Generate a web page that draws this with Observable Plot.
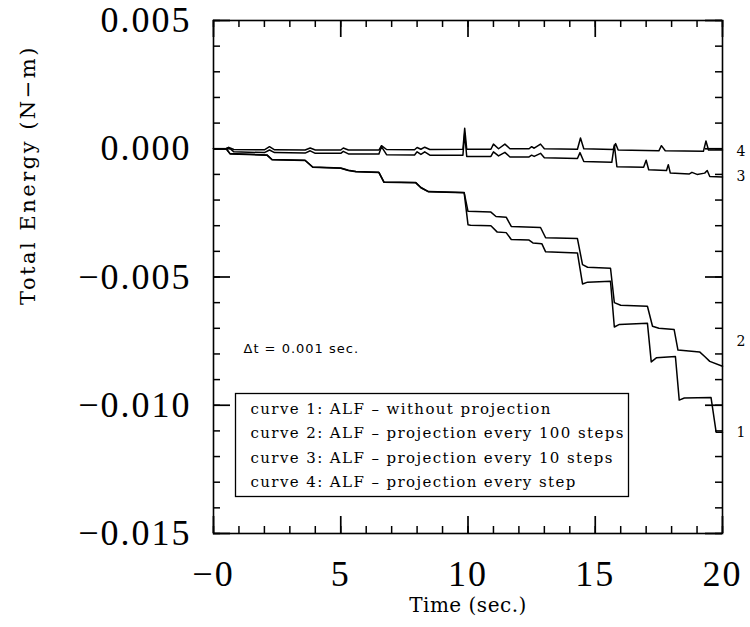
<!DOCTYPE html>
<html>
<head>
<meta charset="utf-8">
<script src="https://cdn.jsdelivr.net/npm/d3@7"></script>
<script src="https://cdn.jsdelivr.net/npm/@observablehq/plot@0.6"></script>
<style>
  body { margin: 0; background: #fff; }
</style>
</head>
<body>
<div id="chart"></div>
<script>
// ---- data ----
const curveNames = ["1", "2", "3", "4"];

const curve1Time = [0,0.5,0.65,2.1,2.3,3.6,3.9,5.0,5.3,5.6,6.5,6.7,7.95,8.15,8.45,9.85,10.0,10.1,10.9,11.15,11.5,11.7,12.4,12.55,12.9,13.05,14.3,14.5,14.7,15.6,15.75,15.95,17.05,17.2,17.4,18.15,18.3,18.5,19.55,19.75,20];
const curve1Energy = [0,0,-0.0002,-0.00025,-0.00043,-0.00046,-0.00072,-0.00076,-0.00085,-0.0009,-0.00093,-0.00131,-0.00133,-0.00152,-0.00168,-0.00172,-0.00296,-0.00298,-0.0030,-0.00325,-0.00327,-0.00354,-0.00356,-0.00367,-0.0037,-0.00402,-0.00406,-0.00527,-0.0052,-0.00517,-0.00695,-0.00685,-0.0068,-0.00831,-0.00815,-0.0081,-0.0098,-0.00972,-0.0097,-0.01105,-0.01105];

const curve2Time = [0,0.5,0.65,2.1,2.3,3.6,3.9,5.0,5.3,5.6,6.5,6.7,7.95,8.15,8.45,9.85,10.0,10.9,11.1,11.5,11.7,12.85,13.05,14.3,14.5,14.7,15.6,15.75,16.0,17.05,17.25,17.5,18.1,18.25,19.1,19.3,19.5,20];
const curve2Energy = [0,0,-0.00019,-0.00024,-0.00042,-0.00045,-0.00071,-0.00075,-0.00084,-0.00089,-0.00092,-0.0013,-0.00132,-0.00151,-0.00167,-0.00171,-0.00244,-0.00247,-0.00264,-0.00267,-0.00303,-0.00307,-0.00347,-0.0035,-0.00452,-0.00462,-0.00466,-0.006,-0.0061,-0.00614,-0.00692,-0.0070,-0.00705,-0.00785,-0.00792,-0.0081,-0.00829,-0.00848];

const curve3Time = [0,0.5,0.6,0.8,2.0,2.2,2.4,3.6,3.8,4.0,5.0,5.1,5.3,6.5,6.6,6.8,7.9,8.0,8.15,8.3,8.5,9.8,9.87,9.95,10.9,11.0,11.2,11.45,11.65,12.4,12.5,12.6,12.85,13.0,14.3,14.4,14.55,15.65,15.75,15.85,16.9,17.0,17.1,17.8,17.87,17.95,18.7,18.8,19.0,19.3,19.4,19.5,20];
const curve3Energy = [0,0,0.00005,-0.00012,-0.00015,-0.00005,-0.00015,-0.00017,-0.00008,-0.00018,-0.00018,-0.0001,-0.0002,-0.0002,0.00008,-0.00023,-0.00024,-0.00012,-0.00022,-0.00012,-0.00025,-0.00025,0.0006,-0.0003,-0.0003,-0.00012,-0.00028,-0.00014,-0.00032,-0.00032,-0.00025,-0.0003,-0.00018,-0.00035,-0.00038,-0.00015,-0.0005,-0.00053,0.00015,-0.0007,-0.00072,-0.00045,-0.00082,-0.00085,-0.00062,-0.00095,-0.00098,-0.00092,-0.001,-0.00095,-0.00085,-0.00108,-0.0011];

const curve4Time = [0,0.5,0.6,0.8,2.0,2.2,2.4,3.6,3.8,4.0,5.0,5.1,5.3,6.5,6.6,6.8,7.9,8.0,8.15,8.3,8.5,9.8,9.87,9.95,10.9,11.0,11.2,11.45,11.65,12.4,12.5,12.6,12.85,13.0,14.3,14.42,14.55,15.7,15.8,15.9,17.5,17.6,17.75,19.25,19.35,19.45,20];
const curve4Energy = [0,0,0.00005,-0.00003,-0.00004,0.00008,-0.00004,-0.00005,0.00003,-0.00005,-0.00005,0.00003,-0.00005,-0.00005,0.00012,-0.00003,-0.00004,0.00005,-0.00002,0.00006,-0.00003,-0.00002,0.0008,-0.00002,-0.00002,0.00018,0.0,0.00018,0.0,0.0,0.00008,0.00002,0.00018,0.0,-0.00002,0.00042,0.0,-0.00003,0.0002,-0.00005,-0.00008,0.00012,-0.00008,-0.0001,0.0003,-0.00005,-0.00005];

// label positions of the curve numbers at the right edge
const curveLabelEnergy = [-0.01106, -0.0075, -0.00109, -0.00012];

const xMajorTicks = [0, 5, 10, 15, 20];
const xTickLabels = ["\u22120", "5", "10", "15", "20"];
const yMajorTicks = [0.005, 0, -0.005, -0.010, -0.015];
const yTickLabels = ["0.005", "0.000", "\u22120.005", "\u22120.010", "\u22120.015"];
const xMinorTicks = d3.range(0, 21);
const yMinorTicks = d3.range(-15, 6).map(k => k / 1000);

const legendLabels = [
  "curve 1: ALF \u2013 without projection",
  "curve 2: ALF \u2013 projection every 100 steps",
  "curve 3: ALF \u2013 projection every 10 steps",
  "curve 4: ALF \u2013 projection every step"
];
const xTitle = "Time (sec.)";
const yTitle = "Total Energy (N\u2212m)";
const dtNote = "\u0394t = 0.001 sec.";

// ---- build table ----
const series = [
  [curve1Time, curve1Energy],
  [curve2Time, curve2Energy],
  [curve3Time, curve3Energy],
  [curve4Time, curve4Energy]
];
const rows = series.flatMap(([T, E], k) => T.map((t, i) => ({curve: curveNames[k], t, E: E[i]})));
const endLabels = curveNames.map((name, k) => ({name, t: series[k][0][series[k][0].length - 1], E: curveLabelEnergy[k]}));

// ---- layout ----
const W = 750, H = 627;
const mL = 213, mR = 28, mT = 20, mB = 94;
const plotW = W - mL - mR, plotH = H - mT - mB;
const minorLen = 7, majorLen = 17;

const serif = "DejaVu Serif";
const tickFont = "Liberation Serif";
const tickColor = "#000";

// inward ticks on all four sides, as Plot rules inset from the frame edges
const tickMarks = [];
for (const [vals, len, sw] of [[xMinorTicks, minorLen, 1.5], [xMajorTicks, majorLen, 1.7]]) {
  tickMarks.push(Plot.ruleX(vals, {x: d => d, insetTop: plotH - len, stroke: tickColor, strokeWidth: sw}));
  tickMarks.push(Plot.ruleX(vals, {x: d => d, insetBottom: plotH - len, stroke: tickColor, strokeWidth: sw}));
}
for (const [vals, len, sw] of [[yMinorTicks, minorLen, 1.5], [yMajorTicks, majorLen, 1.7]]) {
  tickMarks.push(Plot.ruleY(vals, {y: d => d, insetRight: plotW - len, stroke: tickColor, strokeWidth: sw}));
  tickMarks.push(Plot.ruleY(vals, {y: d => d, insetLeft: plotW - len, stroke: tickColor, strokeWidth: sw}));
}

const chart = Plot.plot({
  width: W,
  height: H,
  marginLeft: mL,
  marginRight: mR,
  marginTop: mT,
  marginBottom: mB,
  style: {fontFamily: serif, background: "#fff", color: "#000"},
  x: {domain: [0, 20], axis: null},
  y: {domain: [-0.015, 0.005], axis: null},
  marks: [
    Plot.axisX(xMajorTicks, {anchor: "bottom", tickSize: 0, tickPadding: 27, label: null, fill: "#000",
      tickFormat: d => xTickLabels[xMajorTicks.indexOf(d)], fontSize: 36, fontFamily: tickFont}),
    Plot.axisY(yMajorTicks, {anchor: "left", tickSize: 0, tickPadding: 22, label: null, fill: "#000",
      tickFormat: d => yTickLabels[yMajorTicks.indexOf(d)], fontSize: 36, fontFamily: tickFont}),
    Plot.frame({stroke: "#000", strokeWidth: 1.6}),
    ...tickMarks,
    Plot.line(rows, {x: "t", y: "E", z: "curve", stroke: "#000", strokeWidth: 1.5}),
    Plot.text(endLabels, {x: "t", y: "E", text: "name", dx: 14, textAnchor: "start", fontSize: 14, fontFamily: serif, fill: "#000"}),
    // legend box and lines
    Plot.frame({stroke: "#000", strokeWidth: 1.3, insetLeft: 22, insetRight: 94, insetTop: 373, insetBottom: 37}),
    ...legendLabels.map((s, i) => Plot.text([s], {frameAnchor: "bottom-left", dx: 37, dy: -120 + i * 24.6,
      textAnchor: "start", fontSize: 15, fontFamily: serif, fill: "#000"})),
    Plot.text([dtNote], {frameAnchor: "left", dx: 30, dy: 72, textAnchor: "start", fontSize: 13,
      fontFamily: "DejaVu Sans", fill: "#000"}),
    Plot.text([xTitle], {frameAnchor: "bottom", dy: 78, fontSize: 20, fontFamily: serif, fill: "#000"}),
    Plot.text([yTitle], {frameAnchor: "left", dx: -185, dy: 28, rotate: -90, fontSize: 21, fontFamily: serif, fill: "#000"})
  ]
});
document.getElementById("chart").appendChild(chart);

// letter spacing to mimic the wide plotter lettering
const spacing = new Map([
  ...legendLabels.map(s => [s, "1.4px"]),
  ...yTickLabels.map(s => [s, "2px"]),
  ...xTickLabels.map(s => [s, "2px"]),
  [dtNote, "1px"],
  [yTitle, "2.5px"],
  [xTitle, "0.5px"]
]);
d3.select(chart).selectAll("text").each(function () {
  const s = spacing.get(this.textContent);
  if (s) this.style.letterSpacing = s;
});
</script>
</body>
</html>
